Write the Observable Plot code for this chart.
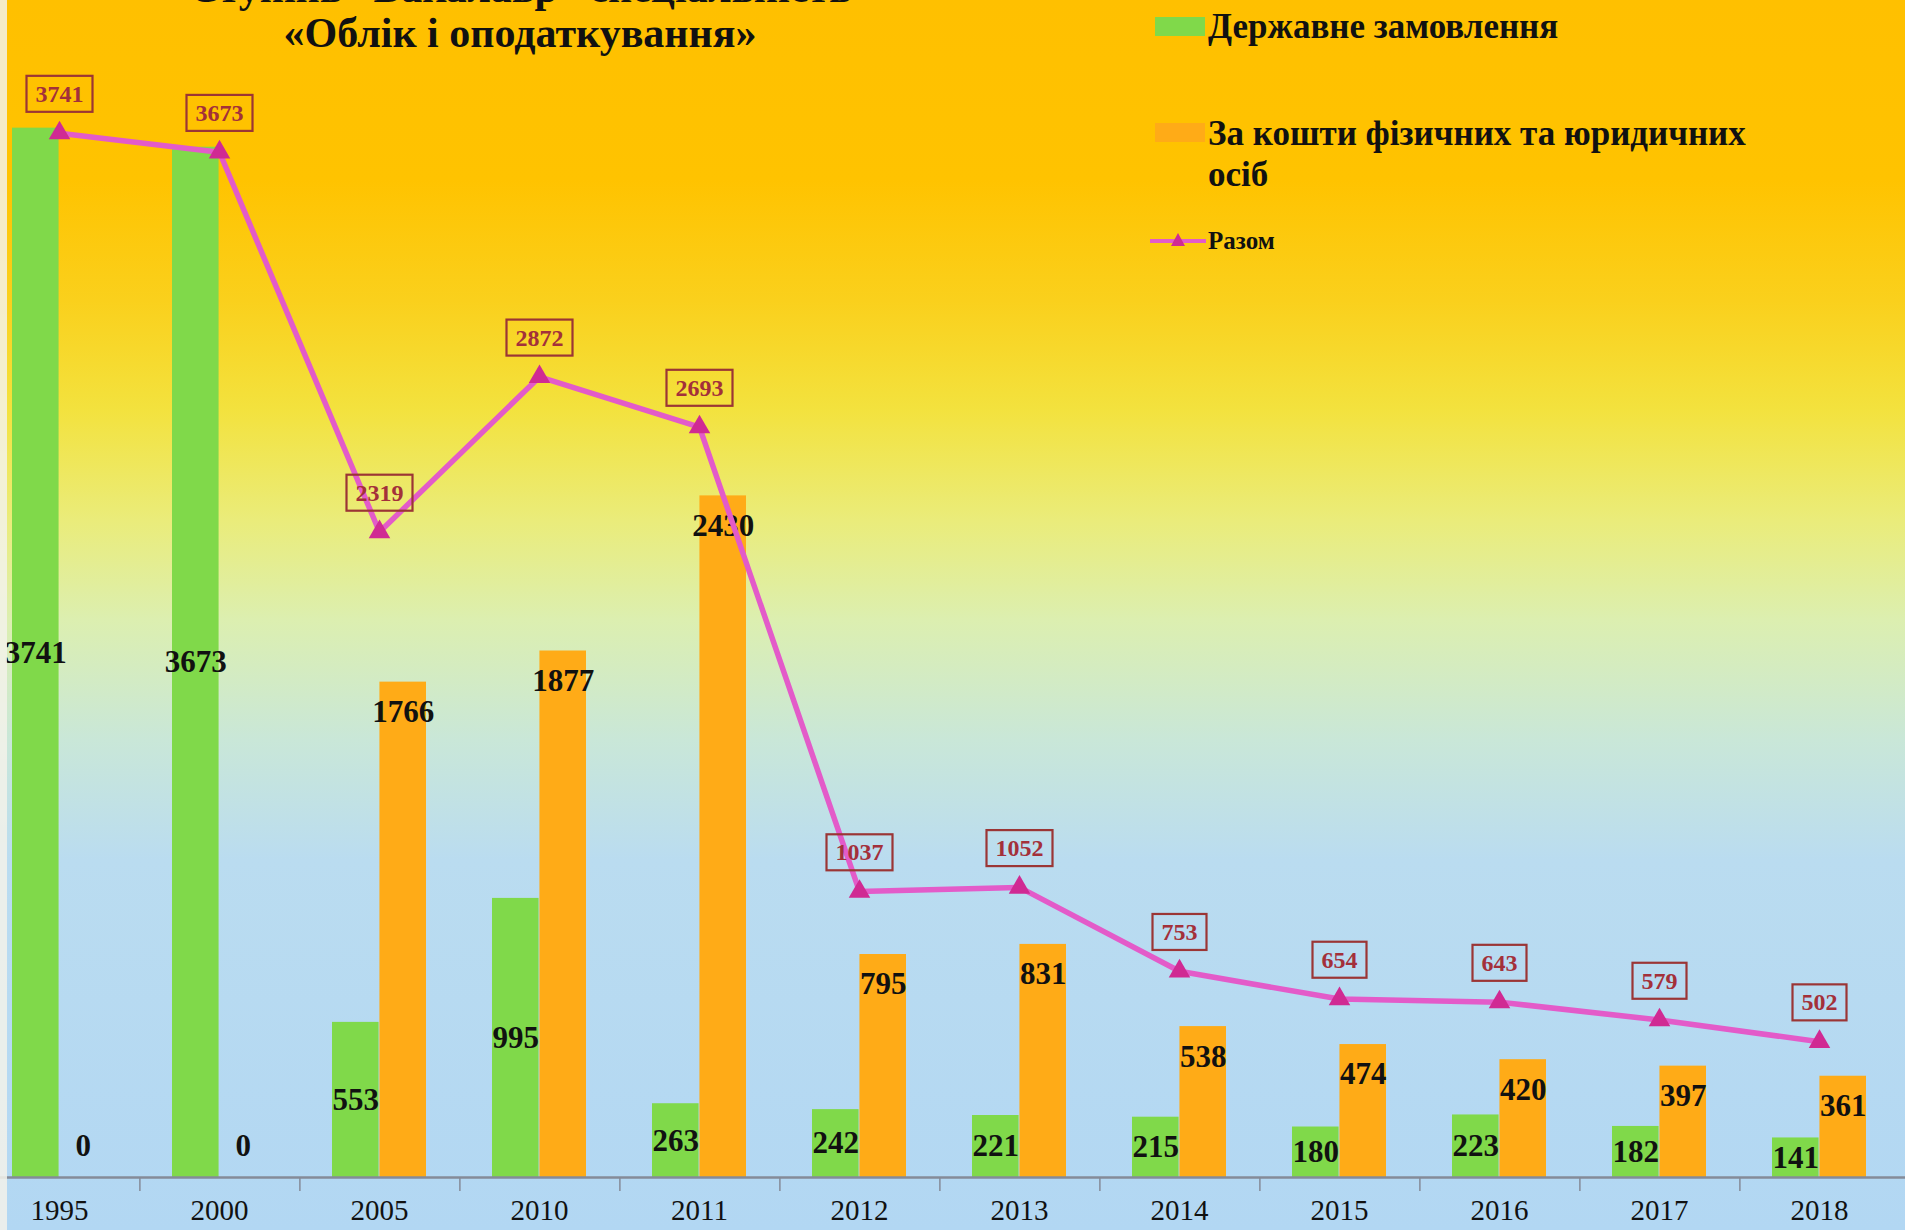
<!DOCTYPE html>
<html>
<head>
<meta charset="utf-8">
<script src="https://cdn.jsdelivr.net/npm/d3@7"></script>
<script src="https://cdn.jsdelivr.net/npm/@observablehq/plot@0.6"></script>
<style>
html, body { margin: 0; padding: 0; }
#wrap {
  position: relative; width: 1905px; height: 1230px; overflow: hidden;
  font-family: "Liberation Serif", "Times New Roman", serif;
  background: linear-gradient(to bottom,
    #ffc000 0px, #ffc300 180px, #fad01c 300px, #f3e23e 410px,
    #eaec7a 520px, #dcefb0 620px, #c9e7d8 740px, #badcf0 860px, #b2d7f3 1230px);
}
#chart { position: absolute; left: 0; top: 0; }
.title {
  position: absolute; left: 0; width: 1040px; top: -34px; text-align: center;
  font-weight: bold; font-size: 42px; line-height: 45px; color: #111;
}
.lg { position: absolute; font-weight: bold; color: #111; white-space: nowrap; }
.sw { position: absolute; }
#edge { position: absolute; left: 0; top: 0; width: 7px; height: 1230px; background: #f3f2ea; opacity: 0.85; }
</style>
</head>
<body>
<div id="wrap">
  <div id="chart"></div>
  <div class="title">Ступінь «Бакалавр» спеціальність<br>«Облік і оподаткування»</div>

  <div class="sw" style="left:1155px;top:17px;width:50px;height:19px;background:#80d94a;"></div>
  <div class="lg" style="left:1208px;top:6px;font-size:35px;line-height:41px;">Державне замовлення</div>

  <div class="sw" style="left:1155px;top:123px;width:50px;height:19px;background:#ffab17;"></div>
  <div class="lg" style="left:1208px;top:113px;font-size:35px;line-height:41px;">За кошти фізичних та юридичних<br>осіб</div>

  <svg class="sw" style="left:1150px;top:231px;" width="56" height="20">
    <line x1="0" y1="10" x2="56" y2="10" stroke="#e35bc9" stroke-width="4"></line>
    <polygon points="28,2 21,15 35,15" fill="#d02a93"></polygon>
  </svg>
  <div class="lg" style="left:1208px;top:227px;font-size:25px;line-height:28px;">Разом</div>
  <div id="edge"></div>
</div>
<script>
const years = ["1995","2000","2005","2010","2011","2012","2013","2014","2015","2016","2017","2018"];
const stateOrder = [3741, 3673, 553, 995, 263, 242, 221, 215, 180, 223, 182, 141];
const paidStudy = [0, 0, 1766, 1877, 2430, 795, 831, 538, 474, 420, 397, 361];
const totals = [3741, 3673, 2319, 2872, 2693, 1037, 1052, 753, 654, 643, 579, 502];

const data = years.map((year, i) => ({year, gov: stateOrder[i], paid: paidStudy[i], total: totals[i]}));

const W = 1905, H = 1230;
const pad = 0.41;
const xStart = -25.4, xEnd = 1903.8;
const step = (xEnd - xStart) / years.length;
const half = step * (1 - pad) / 2;
const labelFont = "Liberation Serif, Times New Roman, serif";

const plot = Plot.plot({
  width: W, height: H,
  marginTop: 55, marginBottom: 53, marginLeft: 0, marginRight: 0,
  style: {background: "transparent", fontFamily: labelFont, overflow: "visible"},
  x: {type: "band", domain: years, range: [xStart, xEnd], paddingInner: pad, paddingOuter: pad / 2, axis: null},
  y: {domain: [0, 4000], axis: null},
  marks: [
    Plot.barY(data, {x: "year", y: "gov", fill: "#80d94a", insetRight: half}),
    Plot.barY(data, {x: "year", y: "paid", fill: "#ffab17", insetLeft: half}),
    Plot.ruleY([0], {stroke: "#858b98", strokeWidth: 2.5}),
    Plot.ruleX(years.slice(0, -1), {x: d => d, y1: 0, y2: 0, dx: step / 2, insetBottom: -14, stroke: "#858b98", strokeWidth: 1.5}),
    Plot.text(years, {x: d => d, frameAnchor: "bottom", dy: 42, text: d => d, fontSize: 29, fill: "#111", fontFamily: labelFont}),
    Plot.text(data, {x: "year", y: d => d.gov / 2, text: d => String(d.gov), dx: -half / 2, fontSize: 31, fontWeight: "bold", fill: "#111", fontFamily: labelFont}),
    Plot.text(data.filter(d => d.paid > 0), {x: "year", y: "paid", text: d => String(d.paid), dx: half / 2, dy: 30, fontSize: 31, fontWeight: "bold", fill: "#111", fontFamily: labelFont}),
    Plot.text(data.filter(d => d.paid === 0), {x: "year", y: "paid", text: d => String(d.paid), dx: half / 2, dy: -31, fontSize: 31, fontWeight: "bold", fill: "#111", fontFamily: labelFont}),
    Plot.line(data, {x: "year", y: "total", dy: 5, stroke: "#e35bc9", strokeWidth: 5.5}),
    Plot.dot(data, {x: "year", y: "total", dy: 5, symbol: "triangle", r: 8, fill: "#d02a93"}),
    Plot.text(data, {x: "year", y: "total", text: d => String(d.total), dy: -34, fontSize: 24, fontWeight: "bold", fill: "#a3303a", fontFamily: labelFont, ariaDescription: "totals"})
  ]
});

document.getElementById("chart").appendChild(plot);

let groups = plot.querySelectorAll('g[aria-description="totals"]');
if (!groups.length) {
  groups = Array.from(plot.querySelectorAll('g')).filter(g => g.getAttribute("fill") === "#a3303a");
}
const NS = "http://www.w3.org/2000/svg";
groups.forEach(g => {
  g.querySelectorAll("text").forEach(t => {
    const b = t.getBBox();
    const r = document.createElementNS(NS, "rect");
    r.setAttribute("x", b.x - 9);
    r.setAttribute("y", b.y - 5);
    r.setAttribute("width", b.width + 18);
    r.setAttribute("height", b.height + 10);
    r.setAttribute("fill", "none");
    r.setAttribute("stroke", "#9b3535");
    r.setAttribute("stroke-width", 2.2);
    const tr = t.getAttribute("transform");
    if (tr) r.setAttribute("transform", tr);
    t.parentNode.insertBefore(r, t);
  });
});
</script>
</body>
</html>
